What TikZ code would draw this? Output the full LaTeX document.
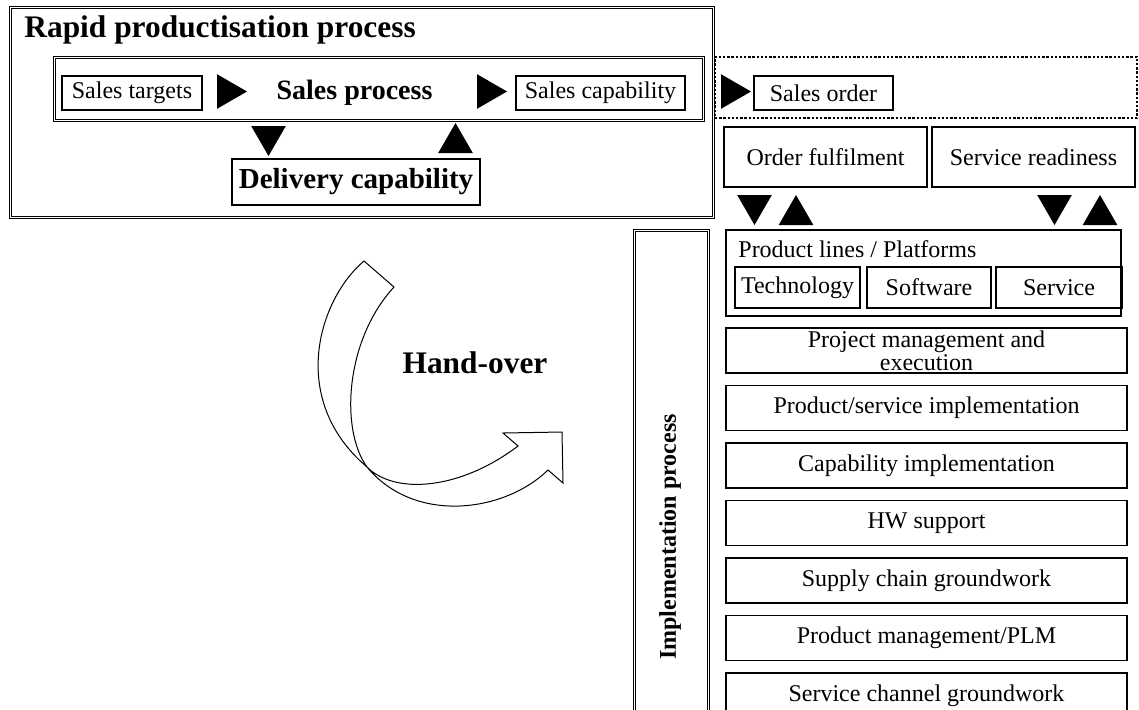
\documentclass[tikz,border=0pt]{standalone}
\usepackage{fontspec}
\setmainfont{Liberation Serif}
\usetikzlibrary{positioning, shapes.geometric}
\newcommand{\regfont}{\fontsize{12}{11.5}\selectfont}
\newcommand{\midfont}{\fontsize{14}{14}\selectfont\bfseries}
\newcommand{\titlefont}{\fontsize{15.7}{16}\selectfont\bfseries}
\tikzset{
  dblframe/.style={
    draw=black, double, double distance=0.5pt,
    line width=0.5pt,
    inner sep=0pt
  },
  textbox/.style={
    draw=black, line width=0.65pt,
    inner sep=0pt,
    align=center,
    font=\regfont
  },
  stackbox/.style={
    textbox,
    minimum width=200.5pt,
    minimum height=22.5pt
  },
  dotbox/.style={
    draw=black, line width=0.8pt,
    dash pattern=on 1.2pt off 0.9pt,
    inner sep=0pt
  },
  tri/.style={
    regular polygon, regular polygon sides=3,
    fill=black, inner sep=0pt, outer sep=0pt,
    minimum size=20pt
  },
  triright/.style={tri, shape border rotate=-90},
  tridown/.style={tri, shape border rotate=180},
  triup/.style={tri}
}

\begin{document}
\begin{tikzpicture}[x=0.5pt, y=-0.5pt]
  \useasboundingbox (0,0) rectangle (1139,709);

  % rapid productisation block
  \node[dblframe, minimum width=351.5pt, minimum height=105pt] (rapid) at (361.5,112) {};
  \node[anchor=base west, inner sep=0pt, font=\titlefont] (rapidtitle) at (24,37) {Rapid productisation process};
  \node[dblframe, minimum width=324.5pt, minimum height=31.5pt] (salesproc) at (378.5,88.5) {};
  \node[textbox, minimum width=70pt, minimum height=17pt] (targets) at (132,93) {Sales targets};
  \node[triright] (tr1) at (227,91.5) {};
  \node[inner sep=0pt, font=\midfont] (salestext) at (354.5,93) {Sales process};
  \node[triright] (tr2) at (487,91.5) {};
  \node[textbox, minimum width=84.5pt, minimum height=17pt] (salescap) at (600.5,93) {Sales capability};
  \node[tridown] (td1) at (268.5,136) {};
  \node[triup] (tu1) at (455.5,143) {};
  \node[textbox, line width=1.1pt, minimum width=124pt, minimum height=23pt,
        font=\fontsize{14.5}{14.5}\selectfont\bfseries] (delivery) at (356,182) {Delivery capability};

  % order level
  \node[dotbox, minimum width=211pt, minimum height=30.5pt] (orderzone) at (926,87.5) {};
  \node[triright] (tr3) at (731,91.5) {};
  \node[textbox, minimum width=69.5pt, minimum height=17pt] (salesorder) at (823.5,93) {Sales order};
  \node[textbox, minimum width=101.5pt, minimum height=30pt] (fulfil) at (825.5,157) {Order fulfilment};
  \node[textbox, minimum width=101.5pt, minimum height=30pt] (readiness) at (1033.5,157) {Service readiness};
  \node[tridown] (td2) at (754.5,205) {};
  \node[triup] (tu2) at (796,215) {};
  \node[tridown] (td3) at (1054.5,205) {};
  \node[triup] (tu3) at (1100,215) {};

  % platforms
  \node[textbox, minimum width=197.5pt, minimum height=43pt] (platforms) at (923.5,273) {};
  \node[anchor=base west, inner sep=0pt, font=\regfont] (platformtext) at (738,257) {Product lines / Platforms};
  \node[textbox, minimum width=62.5pt, minimum height=20.5pt] (tech) at (797.5,287.5) {Technology};
  \node[textbox, minimum width=62pt, minimum height=20.5pt] (soft) at (929,287.5) {Software};
  \node[textbox, minimum width=63pt, minimum height=20.5pt] (serv) at (1059,287.5) {Service};

  % implementation stack
  \node[stackbox] (pm) at (926.5,350.5) {Project management and\\execution};
  \node[stackbox, below=5.6pt of pm] (psimpl) {Product/service implementation};
  \node[stackbox, below=5.6pt of psimpl] (capimpl) {Capability implementation};
  \node[stackbox, below=5.6pt of capimpl] (hw) {HW support};
  \node[stackbox, below=5.6pt of hw] (supply) {Supply chain groundwork};
  \node[stackbox, below=5.6pt of supply] (plm) {Product management/PLM};
  \node[stackbox, below=5.6pt of plm] (channel) {Service channel groundwork};

  \node[dblframe, minimum width=37pt, minimum height=243pt] (implframe) at (671,473) {};
  \node[rotate=90, inner sep=0pt, font=\regfont\bfseries] (impltext) at (670,537) {Implementation process};

  % hand-over arrow
  \node[font=\titlefont] (handtext) at (475,363) {Hand-over};
  \draw[line width=0.5pt] (364,261) .. controls (318,300) and (288,400) .. (367,467)
    .. controls (395,495) and (460,490) .. (518,446) -- (503,433) -- (562,432)
    -- (563,483) -- (548,470) .. controls (505,512) and (415,525) .. (367,467)
    .. controls (340,430) and (345,340) .. (394,287) -- cycle;
\end{tikzpicture}
\end{document}
